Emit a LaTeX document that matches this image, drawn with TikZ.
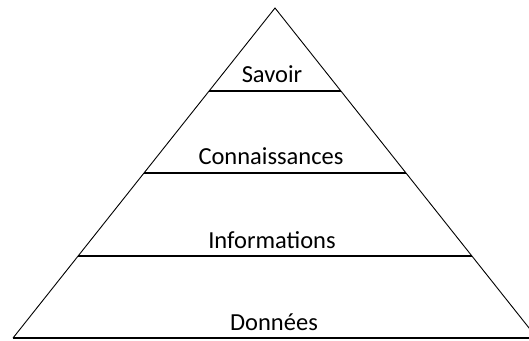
\documentclass[tikz,border=0pt]{standalone}
\usepackage{fontspec}
\setmainfont{Carlito}
\usepackage{tikz}
\usetikzlibrary{calc, positioning}
\tikzstyle{side}=[color=black, line width=0.9pt]
\tikzstyle{level}=[color=black, line width=1.6pt]
\tikzstyle{label}=[font=\fontsize{24.5}{28}\selectfont, inner sep=0pt, anchor=base]

\begin{document}
\begin{tikzpicture}[x=1pt, y=-1pt]
      \useasboundingbox (0,0) rectangle (529,340);

      \coordinate (top) at (275,8);
      \coordinate (L) at (13,338);
      \coordinate (R) at (537,338);

      \coordinate (l1) at ($(top)!0.2515!(L)$);
      \coordinate (r1) at ($(top)!0.2515!(R)$);
      \coordinate (l2) at ($(top)!0.5!(L)$);
      \coordinate (r2) at ($(top)!0.5!(R)$);
      \coordinate (l3) at ($(top)!0.7515!(L)$);
      \coordinate (r3) at ($(top)!0.7515!(R)$);

      \draw[side] (L) -- (top) -- (R);
      \draw[level] (L) -- (R);
      \draw[level] (l1) -- (r1);
      \draw[level] (l2) -- (r2);
      \draw[level] (l3) -- (r3);

      \node[label] (savoir) at (272,82) {Savoir};
      \node[label] (conn) at (271,164) {Connaissances};
      \node[label] (info) at (272,248) {Informations};
      \node[label] (donnees) at (274,330) {Données};
    \end{tikzpicture}
\end{document}
